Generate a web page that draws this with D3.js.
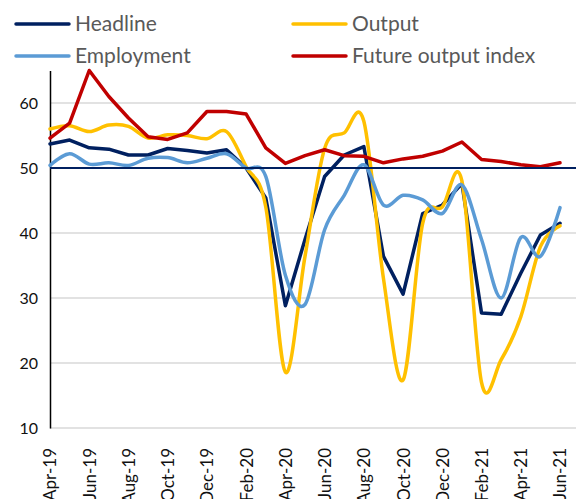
<!DOCTYPE html>
<html>
<head>
<meta charset="UTF-8">
<script src="https://cdn.jsdelivr.net/npm/d3@7"></script>
<style>
  body { margin: 0; background: #fff; }
  svg { display: block; font-family: Lato, 'Noto Sans', sans-serif; }
</style>
</head>
<body>
<svg id="chart" width="576" height="499"></svg>
<script>
// monthly PMI readings, Apr-19 .. Jun-21
var months = ["Apr-19","May-19","Jun-19","Jul-19","Aug-19","Sep-19","Oct-19","Nov-19","Dec-19",
              "Jan-20","Feb-20","Mar-20","Apr-20","May-20","Jun-20","Jul-20","Aug-20","Sep-20",
              "Oct-20","Nov-20","Dec-20","Jan-21","Feb-21","Mar-21","Apr-21","May-21","Jun-21"];

var headline   = [53.7,54.3,53.1,52.9,52.0,52.0,53.0,52.7,52.3,52.8,50.0,45.4,28.8,39.0,48.7,52.0,53.3,36.4,30.6,43.0,44.3,47.6,27.7,27.5,33.8,39.7,41.5];
var output     = [56.0,56.5,55.6,56.6,56.4,54.6,55.1,55.0,54.5,55.6,50.2,44.0,18.6,36.4,53.0,55.4,57.2,33.0,17.4,41.5,44.0,48.0,17.0,20.5,27.1,37.9,41.1];
var employment = [50.4,52.2,50.6,50.8,50.4,51.5,51.6,50.8,51.5,52.2,50.0,48.7,33.5,29.0,40.5,45.8,50.5,44.3,45.8,45.1,43.0,47.4,39.0,30.0,39.3,36.4,43.9];
var future     = [54.6,56.9,65.0,61.0,57.7,54.8,54.4,55.4,58.7,58.7,58.3,53.1,50.7,51.9,52.8,51.9,51.8,50.8,51.4,51.8,52.6,54.0,51.3,51.0,50.5,50.2,50.8];

var yTicks = [10, 20, 30, 40, 50, 60];
var threshold = 50;

var series = [
  { name: "Headline", values: headline, color: "#002060", smooth: false },
  { name: "Output", values: output, color: "#FFC000", smooth: true },
  { name: "Employment", values: employment, color: "#5B9BD5", smooth: true },
  { name: "Future output index", values: future, color: "#C00000", smooth: false }
];

var svg = d3.select("#chart");
var x = d3.scaleLinear().domain([0, months.length - 1]).range([50, 560]);
var y = d3.scaleLinear().domain([10, 65]).range([428, 70.5]);

// gridlines
svg.append("g")
  .selectAll("line")
  .data(yTicks)
  .enter()
  .append("line")
  .attr("x1", x(0)).attr("x2", 576)
  .attr("y1", function (d) { return y(d); })
  .attr("y2", function (d) { return y(d); })
  .attr("stroke", "#d9d9d9")
  .attr("stroke-width", 1.5);

// y axis
var yAxis = d3.axisLeft(y).tickValues(yTicks).tickSize(0).tickPadding(12);
var ga = svg.append("g").attr("transform", "translate(" + x(0) + ",0)").call(yAxis);
ga.select(".domain").attr("stroke", "#000").attr("stroke-width", 1.5);
ga.selectAll("text").style("font-size", "16px").style("fill", "#111").style("font-family", "Lato");

// x labels every second month
var xAxis = d3.axisBottom(x)
  .tickValues(d3.range(0, months.length, 2))
  .tickFormat(function (i) { return months[i]; })
  .tickSize(0);
var gx = svg.append("g").attr("transform", "translate(0," + y(10) + ")").call(xAxis);
gx.select(".domain").remove();
gx.selectAll("text")
  .style("font-size", "17px").style("fill", "#111").style("font-family", "Lato")
  .attr("text-anchor", "end")
  .attr("transform", "rotate(-90)")
  .attr("x", -20).attr("y", 0).attr("dy", "0.35em");

// lines
series.forEach(function (s) {
  var line = d3.line()
    .x(function (d, i) { return x(i); })
    .y(function (d) { return y(d); })
    .curve(s.smooth ? d3.curveCardinal.tension(0) : d3.curveLinear);
  svg.append("path")
    .datum(s.values)
    .attr("d", line)
    .attr("fill", "none")
    .attr("stroke", s.color)
    .attr("stroke-width", 3.5)
    .attr("stroke-linejoin", "round")
    .attr("stroke-linecap", "round");
});

// 50 threshold line
svg.append("line")
  .attr("x1", x(0)).attr("x2", 576)
  .attr("y1", y(threshold)).attr("y2", y(threshold))
  .attr("stroke", "#002060").attr("stroke-width", 2);

// legend
var legendPos = [[16, 24], [293, 24], [16, 56], [293, 56]];
var legend = svg.append("g")
  .selectAll("g")
  .data(series)
  .enter()
  .append("g")
  .attr("transform", function (d, i) { return "translate(" + legendPos[i][0] + "," + legendPos[i][1] + ")"; });
legend.append("line")
  .attr("x1", 0).attr("x2", 53)
  .attr("stroke", function (d) { return d.color; })
  .attr("stroke-width", 3.5)
  .attr("stroke-linecap", "round");
legend.append("text")
  .attr("x", 59).attr("dy", "0.35em")
  .style("font-size", "21px").style("fill", "#595959")
  .text(function (d) { return d.name; });
</script>
</body>
</html>
